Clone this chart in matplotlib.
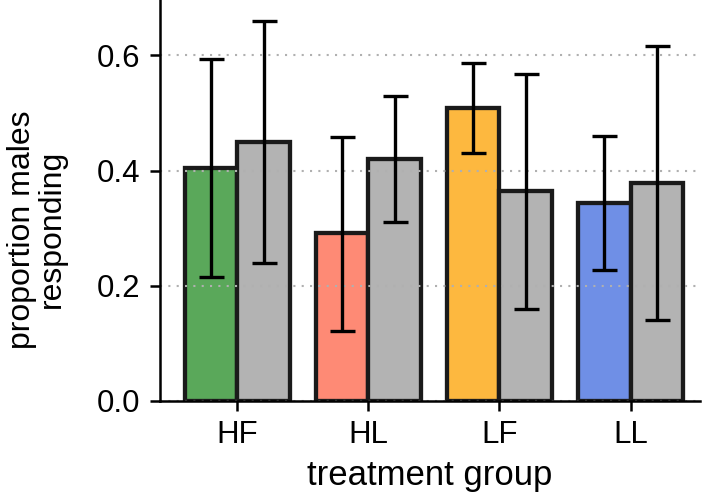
import matplotlib
matplotlib.use("Agg")
import matplotlib.pyplot as plt
import numpy as np

plt.rcParams['font.family'] = ['Liberation Sans', 'DejaVu Sans']

groups = ["HF", "HL", "LF", "LL"]
treat_vals = [0.405, 0.291, 0.508, 0.343]
treat_lo = [0.216, 0.121, 0.430, 0.227]
treat_hi = [0.593, 0.459, 0.586, 0.460]
ctrl_vals = [0.449, 0.420, 0.364, 0.378]
ctrl_lo = [0.239, 0.310, 0.160, 0.140]
ctrl_hi = [0.660, 0.530, 0.567, 0.616]
treat_colors = ["#5aa85a", "#fe8a75", "#fdb83f", "#6f8fe6"]
ctrl_color = "#b3b3b3"
yticks = [0.0, 0.2, 0.4, 0.6]

fig = plt.figure(figsize=(7.11, 4.95), dpi=100)
ax = fig.add_axes([160/711, 94/495, 540/711, 1 - 94/495])

x = np.arange(len(groups))
w = 0.4
tv = np.array(treat_vals); cv = np.array(ctrl_vals)
terr = [tv - np.array(treat_lo), np.array(treat_hi) - tv]
cerr = [cv - np.array(ctrl_lo), np.array(ctrl_hi) - cv]

ax.bar(x - w/2, tv, width=w, color=treat_colors, edgecolor="#1a1a1a", linewidth=3.1, zorder=1)
ax.bar(x + w/2, cv, width=w, color=ctrl_color, edgecolor="#1a1a1a", linewidth=3.1, zorder=1)
ax.errorbar(x - w/2, tv, yerr=terr, fmt="none", ecolor="black", elinewidth=2.4, capsize=9, capthick=2.4, zorder=3)
ax.errorbar(x + w/2, cv, yerr=cerr, fmt="none", ecolor="black", elinewidth=2.4, capsize=9, capthick=2.4, zorder=3)

ax.set_axisbelow(False)
ax.yaxis.grid(True, linestyle=(0, (1, 3)), color="#b0b0b0", linewidth=1.5)
ax.set_xlim(-0.59, 3.53)
ax.set_ylim(0, 0.696)
ax.set_yticks(yticks)
ax.set_yticklabels([f"{t:.1f}" for t in yticks])
ax.set_xticks(x)
ax.set_xticklabels(groups)
for s in ["top", "right"]:
    ax.spines[s].set_visible(False)
for s in ["left", "bottom"]:
    ax.spines[s].set_linewidth(1.8)
    ax.spines[s].set_zorder(4)
ax.tick_params(axis="both", labelsize=22.5, length=7, width=1.8, pad=7)
ax.set_xlabel("treatment group", fontsize=25, labelpad=6)
ax.set_ylabel("proportion males\nresponding", fontsize=23, linespacing=1.0)
ax.yaxis.set_label_coords(-0.172, 0.428)

fig.savefig("out.png", dpi=100)
